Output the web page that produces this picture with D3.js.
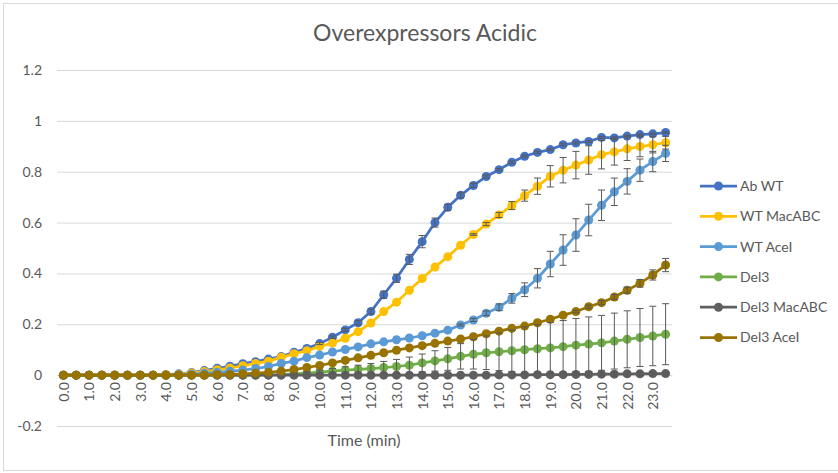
<!DOCTYPE html>
<html>
<head>
<meta charset="utf-8">
<script src="https://cdn.jsdelivr.net/npm/d3@7"></script>
<style>
  html, body { margin: 0; padding: 0; background: #fff; }
  svg { display: block; font-family: Lato, "Open Sans", sans-serif; }
</style>
</head>
<body>
<svg id="chart" width="838" height="473"></svg>
<script>
// Time points (min), one every 0.5 min
const times = ["0.0","0.5","1.0","1.5","2.0","2.5","3.0","3.5","4.0","4.5","5.0","5.5","6.0","6.5","7.0","7.5","8.0","8.5","9.0","9.5","10.0","10.5","11.0","11.5","12.0","12.5","13.0","13.5","14.0","14.5","15.0","15.5","16.0","16.5","17.0","17.5","18.0","18.5","19.0","19.5","20.0","20.5","21.0","21.5","22.0","22.5","23.0","23.5"];

const seriesNames = ["Ab WT", "WT MacABC", "WT AceI", "Del3", "Del3 MacABC", "Del3 AceI"];
const seriesColors = ["#4472C4", "#FFC000", "#5B9BD5", "#70AD47", "#5F5F5F", "#997300"];

const abWT = [0,0,0,0,0,0,0,0,0.002,0.005,0.01,0.018,0.027,0.035,0.045,0.053,0.063,0.073,0.09,0.105,0.124,0.149,0.178,0.206,0.25,0.316,0.381,0.455,0.525,0.6,0.66,0.707,0.746,0.781,0.808,0.837,0.861,0.876,0.887,0.906,0.913,0.919,0.935,0.933,0.94,0.946,0.949,0.954];
const wtMacABC = [0,0,0,0,0,0,0,0,0.002,0.004,0.008,0.014,0.021,0.028,0.037,0.046,0.055,0.07,0.084,0.096,0.113,0.126,0.145,0.171,0.205,0.25,0.287,0.334,0.38,0.425,0.466,0.511,0.553,0.594,0.63,0.667,0.706,0.743,0.782,0.806,0.826,0.846,0.867,0.878,0.89,0.899,0.906,0.914];
const wtAceI = [0,0,0,0,0,0,0,0,0,0.002,0.004,0.007,0.011,0.015,0.02,0.026,0.034,0.046,0.055,0.069,0.079,0.091,0.101,0.111,0.123,0.131,0.139,0.146,0.155,0.165,0.177,0.197,0.217,0.243,0.267,0.302,0.336,0.381,0.437,0.492,0.551,0.61,0.668,0.721,0.762,0.806,0.84,0.872];
const del3 = [0,0,0,0,0,0,0,0,0,0,0,0,0,0,0,0,0.001,0.002,0.005,0.008,0.012,0.016,0.02,0.023,0.026,0.03,0.034,0.039,0.048,0.056,0.064,0.074,0.082,0.088,0.092,0.096,0.1,0.104,0.107,0.112,0.118,0.122,0.127,0.134,0.141,0.148,0.154,0.161];
const del3MacABC = [0,0,0,0,0,0,0,0,0,0,0,0,0,0,0,0,0,0,0,0,0,0,0,0,0,0,0,0,0,0,0,0,0,0,0.001,0.001,0.001,0.002,0.002,0.002,0.003,0.003,0.004,0.004,0.005,0.005,0.006,0.006];
const del3AceI = [0,0,0,0,0,0,0,0,0,0,0,0,0.002,0.003,0.005,0.008,0.011,0.016,0.022,0.03,0.038,0.048,0.058,0.068,0.078,0.088,0.098,0.107,0.116,0.125,0.134,0.142,0.151,0.163,0.173,0.184,0.193,0.206,0.22,0.236,0.25,0.269,0.285,0.307,0.334,0.361,0.394,0.433];

// Standard deviations for the error bars
const abWTErr = [0,0,0,0,0,0,0,0,0,0,0,0,0,0,0,0,0,0,0,0,0.004,0.005,0.006,0.008,0.01,0.014,0.016,0.02,0.024,0.018,0.012,0.01,0.008,0.006,0.005,0.005,0.004,0.004,0.004,0.004,0.004,0.004,0.004,0.004,0.003,0.003,0.003,0.003];
const wtMacABCErr = [0,0,0,0,0,0,0,0,0,0,0,0,0,0,0,0,0,0,0,0,0,0,0,0,0,0,0,0,0,0,0,0,0.003,0.006,0.01,0.016,0.022,0.032,0.042,0.05,0.054,0.056,0.056,0.052,0.046,0.04,0.032,0.025];
const wtAceIErr = [0,0,0,0,0,0,0,0,0,0,0,0,0,0,0,0,0,0,0,0,0,0,0,0,0,0,0,0,0,0,0,0.004,0.006,0.009,0.013,0.019,0.027,0.038,0.05,0.06,0.064,0.062,0.06,0.054,0.05,0.044,0.04,0.032];
const del3Err = [0,0,0,0,0,0,0,0,0,0,0,0,0,0,0,0,0,0,0.003,0.005,0.008,0.01,0.013,0.016,0.02,0.024,0.028,0.032,0.035,0.04,0.045,0.05,0.058,0.066,0.074,0.082,0.09,0.095,0.1,0.103,0.105,0.107,0.108,0.11,0.112,0.114,0.117,0.12];
const del3MacABCErr = [0,0,0,0,0,0,0,0,0,0,0,0,0,0,0,0,0,0,0,0,0,0,0,0,0,0,0,0,0,0,0,0,0,0,0,0,0,0,0,0,0.004,0.005,0.006,0.008,0.008,0.007,0.006,0.006];
const del3AceIErr = [0,0,0,0,0,0,0,0,0,0,0,0,0,0,0,0,0,0,0,0,0,0,0,0,0,0,0,0,0,0,0,0,0,0,0,0,0,0,0,0,0.005,0.006,0.008,0.01,0.012,0.015,0.02,0.026];

const yTicks = [-0.2, 0, 0.2, 0.4, 0.6, 0.8, 1, 1.2];
const yTickLabels = ["-0.2", "0", "0.2", "0.4", "0.6", "0.8", "1", "1.2"];
const xTickLabels = times.filter((t, i) => i % 2 === 0);

const seriesValues = [abWT, wtMacABC, wtAceI, del3, del3MacABC, del3AceI];
const seriesErrors = [abWTErr, wtMacABCErr, wtAceIErr, del3Err, del3MacABCErr, del3AceIErr];

const series = seriesNames.map((name, k) => ({
  name, color: seriesColors[k],
  points: times.map((t, i) => ({ t, v: seriesValues[k][i], e: seriesErrors[k][i] }))
}));

const svg = d3.select("#chart");
const textColor = "#595959";
const font = "Lato, 'Open Sans', sans-serif";

// outer frame
svg.append("rect")
  .attr("x", 3.5).attr("y", 3.5).attr("width", 850).attr("height", 467)
  .attr("fill", "#fff").attr("stroke", "#D9D9D9").attr("stroke-width", 1);

const x = d3.scalePoint().domain(times).range([57, 672]).padding(0.5);
const y = d3.scaleLinear().domain([-0.2, 1.2]).range([426, 70]);

// gridlines and value labels
const yAxis = d3.axisLeft(y).tickValues(yTicks)
  .tickFormat((d, i) => yTickLabels[i]).tickSize(-(672 - 57)).tickPadding(15);
const gy = svg.append("g").attr("transform", "translate(57,0)").call(yAxis);
gy.select(".domain").remove();
gy.selectAll(".tick line").attr("stroke", "#D9D9D9").attr("stroke-width", 1);
gy.selectAll(".tick text").attr("fill", textColor).style("font-size", "14px")
  .attr("font-family", font);

// category axis on the zero line
const xAxis = d3.axisBottom(x).tickValues(xTickLabels).tickSize(0).tickPadding(0);
const gx = svg.append("g").attr("transform", `translate(0,${y(0)})`).call(xAxis);
gx.select(".domain").attr("stroke", "#D9D9D9");
gx.selectAll(".tick text")
  .attr("fill", textColor).style("font-size", "14px")
  .attr("font-family", font)
  .attr("text-anchor", "end")
  .attr("transform", "rotate(-90)")
  .attr("x", -7).attr("y", 0).attr("dy", "0.35em");

// series lines and markers
const line = d3.line().x(d => x(d.t)).y(d => y(d.v));
series.forEach(s => {
  const g = svg.append("g");
  g.append("path").datum(s.points)
    .attr("d", line).attr("fill", "none")
    .attr("stroke", s.color).attr("stroke-width", 2.75).attr("stroke-linejoin", "round");
  g.selectAll("circle").data(s.points).join("circle")
    .attr("cx", d => x(d.t)).attr("cy", d => y(d.v)).attr("r", 4.5)
    .attr("fill", s.color);
});

// error bars
series.forEach(s => {
  const g = svg.append("g").attr("stroke", "#595959").attr("stroke-width", 1).attr("fill", "none");
  const pts = s.points.filter(d => d.e > 0);
  g.selectAll("line.v").data(pts).join("line").attr("class", "v")
    .attr("x1", d => x(d.t)).attr("x2", d => x(d.t))
    .attr("y1", d => y(d.v + d.e)).attr("y2", d => y(d.v - d.e));
  g.selectAll("line.top").data(pts).join("line").attr("class", "top")
    .attr("x1", d => x(d.t) - 3.5).attr("x2", d => x(d.t) + 3.5)
    .attr("y1", d => y(d.v + d.e)).attr("y2", d => y(d.v + d.e));
  g.selectAll("line.bot").data(pts).join("line").attr("class", "bot")
    .attr("x1", d => x(d.t) - 3.5).attr("x2", d => x(d.t) + 3.5)
    .attr("y1", d => y(d.v - d.e)).attr("y2", d => y(d.v - d.e));
});

// title
svg.append("text").attr("x", 425).attr("y", 41).attr("text-anchor", "middle")
  .attr("fill", textColor).style("font-size", "23px").text("Overexpressors Acidic");

// axis title
svg.append("text").attr("x", 364).attr("y", 446).attr("text-anchor", "middle")
  .attr("fill", textColor).style("font-size", "16px").text("Time (min)");

// legend
const legend = svg.append("g").attr("transform", "translate(700,186)");
series.forEach((s, k) => {
  const row = legend.append("g").attr("transform", `translate(0,${k * 30.3})`);
  row.append("line").attr("x1", 0).attr("x2", 37).attr("y1", 0).attr("y2", 0)
    .attr("stroke", s.color).attr("stroke-width", 2.75);
  row.append("circle").attr("cx", 18.5).attr("cy", 0).attr("r", 4.5).attr("fill", s.color);
  row.append("text").attr("x", 40).attr("y", 0).attr("dy", "0.35em")
    .attr("fill", textColor).style("font-size", "14px").text(s.name);
});
</script>
</body>
</html>
